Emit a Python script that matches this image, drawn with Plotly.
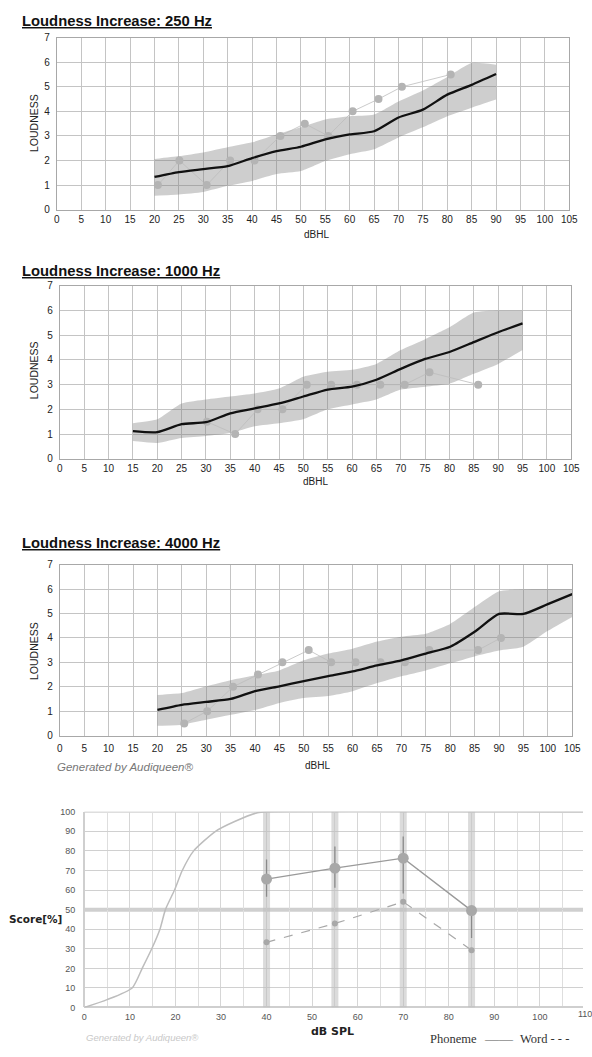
import plotly.graph_objects as go

W, H = 592, 1057

# ---------------- data ----------------
# 250 Hz
hz250_x = [20, 25, 30, 35, 40, 45, 50, 55, 60, 65, 70, 75, 80, 85, 90]
hz250_mean = [1.33, 1.53, 1.65, 1.77, 2.1, 2.38, 2.56, 2.86, 3.06, 3.19, 3.75, 4.07, 4.68, 5.08, 5.52]
hz250_upper = [2.06, 2.18, 2.33, 2.54, 2.74, 3.06, 3.35, 3.67, 3.8, 3.87, 4.4, 4.85, 5.4, 5.97, 5.9]
hz250_lower = [0.57, 0.62, 0.72, 0.97, 1.17, 1.45, 1.57, 1.98, 2.26, 2.46, 2.94, 3.35, 3.8, 4.15, 4.48]
hz250_pt_x = [20.7, 25.1, 30.7, 35.5, 40.5, 45.8, 50.8, 55.6, 60.6, 65.9, 70.7, 80.7]
hz250_pt_y = [1, 2, 1, 2, 2, 3, 3.5, 3, 4, 4.5, 5, 5.5]

# 1000 Hz
hz1k_x = [15, 20, 25, 30, 35, 40, 45, 50, 55, 60, 65, 70, 75, 80, 85, 90, 95]
hz1k_mean = [1.12, 1.08, 1.4, 1.48, 1.84, 2.04, 2.24, 2.52, 2.8, 2.92, 3.2, 3.64, 4.04, 4.32, 4.72, 5.12, 5.48]
hz1k_upper = [1.44, 1.6, 2.24, 2.4, 2.52, 2.64, 2.84, 3.32, 3.52, 3.6, 3.84, 4.4, 4.84, 5.32, 5.92, 6.0, 6.0]
hz1k_lower = [0.72, 0.64, 0.84, 0.92, 1.04, 1.32, 1.44, 1.6, 2.0, 2.2, 2.4, 2.8, 2.92, 3.04, 3.44, 3.84, 4.4]
hz1k_pt_x = [30.2, 36, 40.6, 45.7, 50.7, 55.7, 61, 65.8, 70.8, 75.9, 85.9]
hz1k_pt_y = [1.5, 1, 2, 2, 3, 3, 3, 3, 3, 3.5, 3]

# 4000 Hz
hz4k_x = [20, 25, 30, 35, 40, 45, 50, 55, 60, 65, 70, 75, 80, 85, 90, 95, 100, 105]
hz4k_mean = [1.05, 1.26, 1.38, 1.5, 1.82, 2.02, 2.23, 2.43, 2.63, 2.87, 3.08, 3.36, 3.64, 4.25, 4.98, 4.98, 5.38, 5.79]
hz4k_upper = [1.66, 1.74, 2.02, 2.27, 2.47, 2.67, 3.08, 3.36, 3.56, 3.85, 4.05, 4.17, 4.57, 5.26, 5.91, 5.99, 6.0, 6.0]
hz4k_lower = [0.4, 0.45, 0.65, 0.85, 1.05, 1.34, 1.54, 1.62, 1.82, 2.15, 2.43, 2.67, 2.96, 3.24, 3.48, 3.64, 4.29, 4.86]
hz4k_pt_x = [25.5, 30.2, 35.5, 40.6, 45.6, 51, 55.6, 60.6, 65.7, 70.7, 75.7, 85.7, 90.4]
hz4k_pt_y = [0.5, 1, 2, 2.5, 3, 3.5, 3, 3, 3, 3, 3.5, 3.5, 4]

loud_xticks = list(range(0, 110, 5))
loud_yticks = list(range(0, 8))

# Speech audiometry
levels = [40, 55, 70, 85]
phoneme = [65.6, 71.2, 76.3, 49.5]
phoneme_err_plus = [10, 11, 11, 0]
phoneme_err_minus = [9, 10, 18, 14]
word = [33.3, 42.9, 54, 29.3]
ref_x = [0, 5, 10.5, 12.7, 14.8, 16.6, 17.8, 19.8, 21.5, 24, 28.8, 33, 38, 40, 110]
ref_y = [0, 4, 10, 20, 30, 40, 50, 60, 70, 80, 90, 95, 99.5, 100, 100]
spl_xticks = list(range(0, 110, 10))
score_yticks = list(range(0, 110, 10))

# ---------------- figure ----------------
fig = go.Figure()

def px(xp):
    return xp / W

def py(yp):
    return 1 - yp / H

loud_sets = [
    ("", hz250_x, hz250_mean, hz250_upper, hz250_lower, hz250_pt_x, hz250_pt_y),
    ("2", hz1k_x, hz1k_mean, hz1k_upper, hz1k_lower, hz1k_pt_x, hz1k_pt_y),
    ("3", hz4k_x, hz4k_mean, hz4k_upper, hz4k_lower, hz4k_pt_x, hz4k_pt_y),
]

for sfx, bx, mean, up, lo, ptx, pty in loud_sets:
    xa, ya = "x" + sfx, "y" + sfx
    fig.add_trace(go.Scatter(x=bx, y=up, xaxis=xa, yaxis=ya, mode="lines",
                             line=dict(width=0, color="rgba(0,0,0,0)", shape="spline", smoothing=0.5),
                             hoverinfo="skip", showlegend=False))
    fig.add_trace(go.Scatter(x=bx, y=lo, xaxis=xa, yaxis=ya, mode="lines", fill="tonexty",
                             fillcolor="rgba(125,125,125,0.38)",
                             line=dict(width=0, color="rgba(0,0,0,0)", shape="spline", smoothing=0.5),
                             hoverinfo="skip", showlegend=False))
    fig.add_trace(go.Scatter(x=ptx, y=pty, xaxis=xa, yaxis=ya, mode="lines+markers",
                             line=dict(width=0.8, color="#bdbdbd"),
                             marker=dict(size=8, color="#b4b4b4"),
                             showlegend=False))
    fig.add_trace(go.Scatter(x=bx, y=mean, xaxis=xa, yaxis=ya, mode="lines",
                             line=dict(width=2.3, color="#111111", shape="spline", smoothing=0.6),
                             showlegend=False))

# speech chart
band_x, band_y = [], []
for lv in levels:
    band_x += [lv, lv, None]
    band_y += [0, 100, None]
fig.add_trace(go.Scatter(x=band_x, y=band_y, xaxis="x4", yaxis="y4", mode="lines",
                         line=dict(width=7, color="rgba(190,190,190,0.55)"),
                         hoverinfo="skip", showlegend=False))
fig.add_trace(go.Scatter(x=ref_x, y=ref_y, xaxis="x4", yaxis="y4", mode="lines",
                         line=dict(width=1.5, color="#bdbdbd", shape="spline", smoothing=0.6),
                         showlegend=False))
fig.add_trace(go.Scatter(x=levels, y=word, xaxis="x4", yaxis="y4", mode="lines+markers",
                         line=dict(width=1.2, color="#a8a8a8", dash="dash"),
                         marker=dict(size=6, color="#a8a8a8"),
                         showlegend=False))
fig.add_trace(go.Scatter(x=levels, y=phoneme, xaxis="x4", yaxis="y4", mode="lines+markers",
                         line=dict(width=1.4, color="#9a9a9a"),
                         marker=dict(size=11, color="#a8a8a8"),
                         error_y=dict(type="data", array=phoneme_err_plus, arrayminus=phoneme_err_minus,
                                      color="#8a8a8a", thickness=1.3, width=0),
                         showlegend=False))

# ---------------- axes ----------------
tick_font = dict(family="Liberation Sans, Arial, sans-serif", size=10, color="#222")
grid_c = "#c4c4c4"

doms = {
    "": ([55 / W, 578 / W], [py(206), py(32)], 0),
    "2": ([58 / W, 580 / W], [py(458), py(283)], 0),
    "3": ([58 / W, 581 / W], [py(738), py(565)], 3),
}
layout_axes = {}
for sfx, (dx, dy, so) in doms.items():
    xn = "xaxis" + sfx
    yn = "yaxis" + sfx
    layout_axes[xn] = dict(domain=dx, range=[0, 105], tickvals=loud_xticks, showgrid=True,
                           gridcolor=grid_c, gridwidth=1, zeroline=False, showline=True,
                           linecolor="#a8a8a8", mirror=True, tickfont=tick_font,
                           anchor="y" + sfx, fixedrange=True, ticks="", ticklabelstandoff=so)
    layout_axes[yn] = dict(domain=dy, range=[0, 7], tickvals=loud_yticks, showgrid=True,
                           gridcolor=grid_c, gridwidth=1, zeroline=False, showline=True,
                           linecolor="#a8a8a8", mirror=True, tickfont=tick_font,
                           anchor="x" + sfx, fixedrange=True, ticks="", ticklabelstandoff=4)

spl_font = dict(family="Liberation Sans, Arial, sans-serif", size=9, color="#555")
x4_left, x4_scale = 83, 4.65
layout_axes["xaxis4"] = dict(domain=[x4_left / W, 1.0], range=[0, (W - x4_left) / x4_scale],
                             tickvals=spl_xticks,
                             showgrid=True, gridcolor="#d6d6d6", gridwidth=1,
                             minor=dict(dtick=5, tick0=0, showgrid=True, gridcolor="#dedede", gridwidth=1),
                             zeroline=True, zerolinecolor="#cfcfcf", showline=False,
                             tickfont=spl_font, anchor="y4", fixedrange=True, ticks="",
                             ticklabelstandoff=3)
layout_axes["yaxis4"] = dict(domain=[py(1013), py(815)], range=[0, 100], tickvals=score_yticks,
                             showgrid=True, gridcolor="#d0d0d0", gridwidth=1,
                             zeroline=True, zerolinecolor="#cfcfcf", showline=False,
                             tickfont=spl_font, anchor="x4", fixedrange=True, ticks="",
                             ticklabelstandoff=8)

# ---------------- annotations ----------------
ann = []
title_font = dict(family="Liberation Sans, Arial, sans-serif", size=14.8, color="#111")
for text, yp in [("Loudness Increase: 250 Hz", 15), ("Loudness Increase: 1000 Hz", 268),
                 ("Loudness Increase: 4000 Hz", 543)]:
    ann.append(dict(text="<b><u>" + text + "</u></b>", x=px(17), y=py(yp), xref="paper", yref="paper",
                    xanchor="left", yanchor="middle", showarrow=False, font=title_font))

lab_font = dict(family="Liberation Sans, Arial, sans-serif", size=10.5, color="#222")
for yp in [118, 368, 652]:
    ann.append(dict(text="LOUDNESS", x=px(31), y=py(yp), xref="paper", yref="paper",
                    textangle=-90, xanchor="center", yanchor="middle", showarrow=False, font=lab_font))
for xp, yp in [(320, 231), (319, 481), (321, 768)]:
    ann.append(dict(text="dBHL", x=px(xp), y=py(yp), xref="paper", yref="paper",
                    xanchor="center", yanchor="middle", showarrow=False,
                    font=dict(family="Liberation Sans, Arial, sans-serif", size=10, color="#222")))

ann.append(dict(text="<i>Generated by Audiqueen®</i>", x=px(53), y=py(770), xref="paper", yref="paper",
                xanchor="left", yanchor="middle", showarrow=False,
                font=dict(family="Liberation Sans, Arial, sans-serif", size=11.5, color="#777")))

ann.append(dict(text="<b>Score[%]</b>", x=px(33), y=py(923), xref="paper", yref="paper",
                xanchor="center", yanchor="middle", showarrow=False,
                font=dict(family="DejaVu Sans, Verdana, sans-serif", size=10.5, color="#222")))
ann.append(dict(text="<b>dB SPL</b>", x=px(336), y=py(1037), xref="paper", yref="paper",
                xanchor="center", yanchor="middle", showarrow=False,
                font=dict(family="DejaVu Sans, Verdana, sans-serif", size=11, color="#222")))
# last tick label (110) sits at the very right edge and is cut by the page
ann.append(dict(text="110", x=px(x4_left + 110 * x4_scale), y=py(1020), xref="paper", yref="paper",
                xanchor="center", yanchor="middle", showarrow=False, font=spl_font))
leg_font = dict(family="Liberation Serif, Times New Roman, serif", size=12.5, color="#333")
ann.append(dict(text="Phoneme", x=px(434), y=py(1045), xref="paper", yref="paper",
                xanchor="left", yanchor="middle", showarrow=False, font=leg_font))
ann.append(dict(text="——", x=px(489), y=py(1045), xref="paper", yref="paper",
                xanchor="left", yanchor="middle", showarrow=False,
                font=dict(family="Liberation Serif, Times New Roman, serif", size=14, color="#555")))
ann.append(dict(text="Word - - -", x=px(526), y=py(1045), xref="paper", yref="paper",
                xanchor="left", yanchor="middle", showarrow=False, font=leg_font))
ann.append(dict(text="<i>Generated by Audiqueen®</i>", x=px(83), y=py(1043), xref="paper", yref="paper",
                xanchor="left", yanchor="middle", showarrow=False,
                font=dict(family="Liberation Sans, Arial, sans-serif", size=9.5, color="#c8c8c8")))

shapes = [
    dict(type="line", xref="x4 domain", yref="y4", x0=0, x1=1, y0=50, y1=50,
         line=dict(color="#cfcfcf", width=4), layer="below"),
    dict(type="line", xref="x4 domain", yref="y4", x0=0, x1=1, y0=100, y1=100,
         line=dict(color="#bdbdbd", width=1.5), layer="below"),
]

fig.update_layout(
    width=W, height=H, autosize=False,
    margin=dict(l=0, r=0, t=0, b=0),
    paper_bgcolor="white", plot_bgcolor="white",
    showlegend=False,
    annotations=ann, shapes=shapes,
    **layout_axes,
)

fig.write_html("out.html", config=dict(displayModeBar=False),
               post_script="document.body.style.margin='0';document.body.style.overflow='hidden';")
